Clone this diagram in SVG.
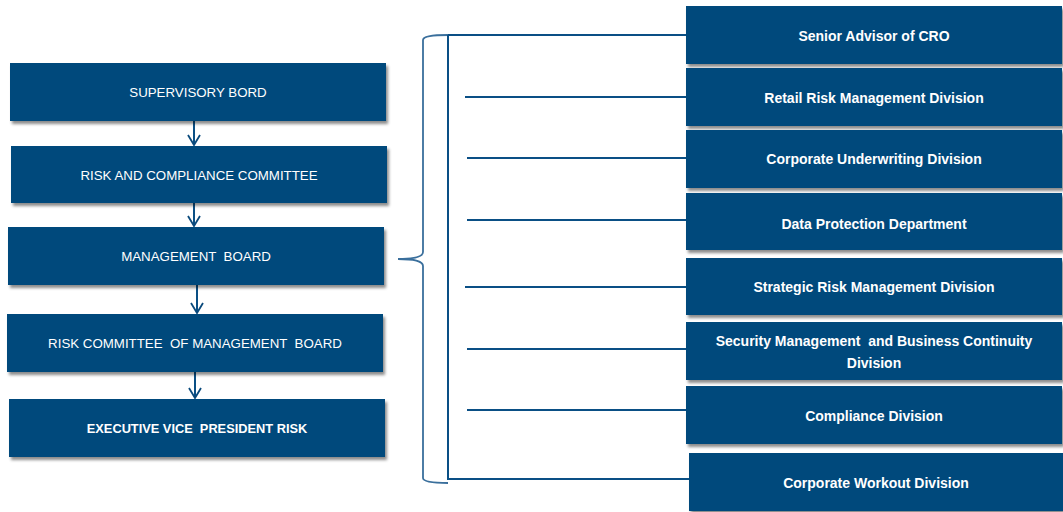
<svg xmlns="http://www.w3.org/2000/svg" width="1063" height="512" viewBox="0 0 1063 512">
<defs>
<filter id="sh" x="-5%" y="-20%" width="115%" height="150%">
<feDropShadow dx="2" dy="3" stdDeviation="1.8" flood-color="#000" flood-opacity="0.45"/>
</filter>
<marker id="ah" markerWidth="12" markerHeight="14" refX="11" refY="7" orient="auto" markerUnits="userSpaceOnUse" viewBox="0 0 12 14">
<path d="M1,1 L11,7 L1,13" fill="none" stroke="#0a4a7c" stroke-width="1.8"/>
</marker>
</defs>
<style>
.box{fill:#004a7c;filter:url(#sh)}
.lt{font-family:"Liberation Sans",Arial,sans-serif;font-size:13.3px;fill:#fff;text-anchor:middle;dominant-baseline:central;white-space:pre}
.rt{font-family:"Liberation Sans",Arial,sans-serif;font-size:14px;font-weight:bold;fill:#fff;text-anchor:middle;dominant-baseline:central;white-space:pre}
.ln{stroke:#0a4f85;stroke-width:2;fill:none}
.br{stroke:#3a6f9c;stroke-width:1.8;fill:none}
</style>
<rect width="1063" height="512" fill="#fff"/>
<g id="connectors">
<line class="ln" x1="194" y1="121" x2="194" y2="145" marker-end="url(#ah)"/>
<line class="ln" x1="194" y1="203" x2="194" y2="226" marker-end="url(#ah)"/>
<line class="ln" x1="197" y1="285" x2="197" y2="313" marker-end="url(#ah)"/>
<line class="ln" x1="195" y1="372" x2="195" y2="398" marker-end="url(#ah)"/>
<path class="br" d="M448,35 Q423,35 423,40 L423,252 Q423,259 398,259 Q423,259 423,266 L423,478 Q423,483 448,483"/>
<line class="ln" x1="448" y1="35" x2="448" y2="480"/>
<line class="ln" x1="448" y1="35" x2="687" y2="35"/>
<line class="ln" x1="465" y1="97" x2="687" y2="97"/>
<line class="ln" x1="467" y1="158" x2="687" y2="158"/>
<line class="ln" x1="467" y1="220" x2="687" y2="220"/>
<line class="ln" x1="465" y1="287" x2="687" y2="287"/>
<line class="ln" x1="467" y1="349" x2="687" y2="349"/>
<line class="ln" x1="467" y1="410" x2="687" y2="410"/>
<line class="ln" x1="447" y1="479" x2="690" y2="479"/>
</g>
<g id="n1"><rect class="box" x="10" y="63" width="376" height="58"/><text class="lt" x="198" y="92">SUPERVISORY BORD</text></g>
<g id="n2"><rect class="box" x="11" y="146" width="376" height="57"/><text class="lt" x="199" y="175">RISK AND COMPLIANCE COMMITTEE</text></g>
<g id="n3"><rect class="box" x="8" y="227" width="376" height="58"/><text class="lt" x="196" y="256">MANAGEMENT  BOARD</text></g>
<g id="n4"><rect class="box" x="7" y="314" width="376" height="58"/><text class="lt" x="195" y="343">RISK COMMITTEE  OF MANAGEMENT  BOARD</text></g>
<g id="n5"><rect class="box" x="9" y="399" width="376" height="58"/><text class="lt" x="197" y="428" style="font-weight:bold;font-size:12.8px">EXECUTIVE VICE  PRESIDENT RISK</text></g>
<g id="r1"><rect class="box" x="686" y="6" width="376" height="58"/><text class="rt" x="874" y="36">Senior Advisor of CRO</text></g>
<g id="r2"><rect class="box" x="686" y="68" width="376" height="58"/><text class="rt" x="874" y="98">Retail Risk Management Division</text></g>
<g id="r3"><rect class="box" x="686" y="130" width="376" height="58"/><text class="rt" x="874" y="159">Corporate Underwriting Division</text></g>
<g id="r4"><rect class="box" x="686" y="193" width="376" height="57"/><text class="rt" x="874" y="224">Data Protection Department</text></g>
<g id="r5"><rect class="box" x="686" y="258" width="376" height="57"/><text class="rt" x="874" y="287">Strategic Risk Management Division</text></g>
<g id="r6"><rect class="box" x="686" y="322" width="376" height="58"/><text class="rt" x="874" y="341">Security Management  and Business Continuity</text><text class="rt" x="874" y="363">Division</text></g>
<g id="r7"><rect class="box" x="686" y="386" width="376" height="58"/><text class="rt" x="874" y="416">Compliance Division</text></g>
<g id="r8"><rect class="box" x="689" y="453" width="374" height="58"/><text class="rt" x="876" y="483">Corporate Workout Division</text></g>
</svg>
